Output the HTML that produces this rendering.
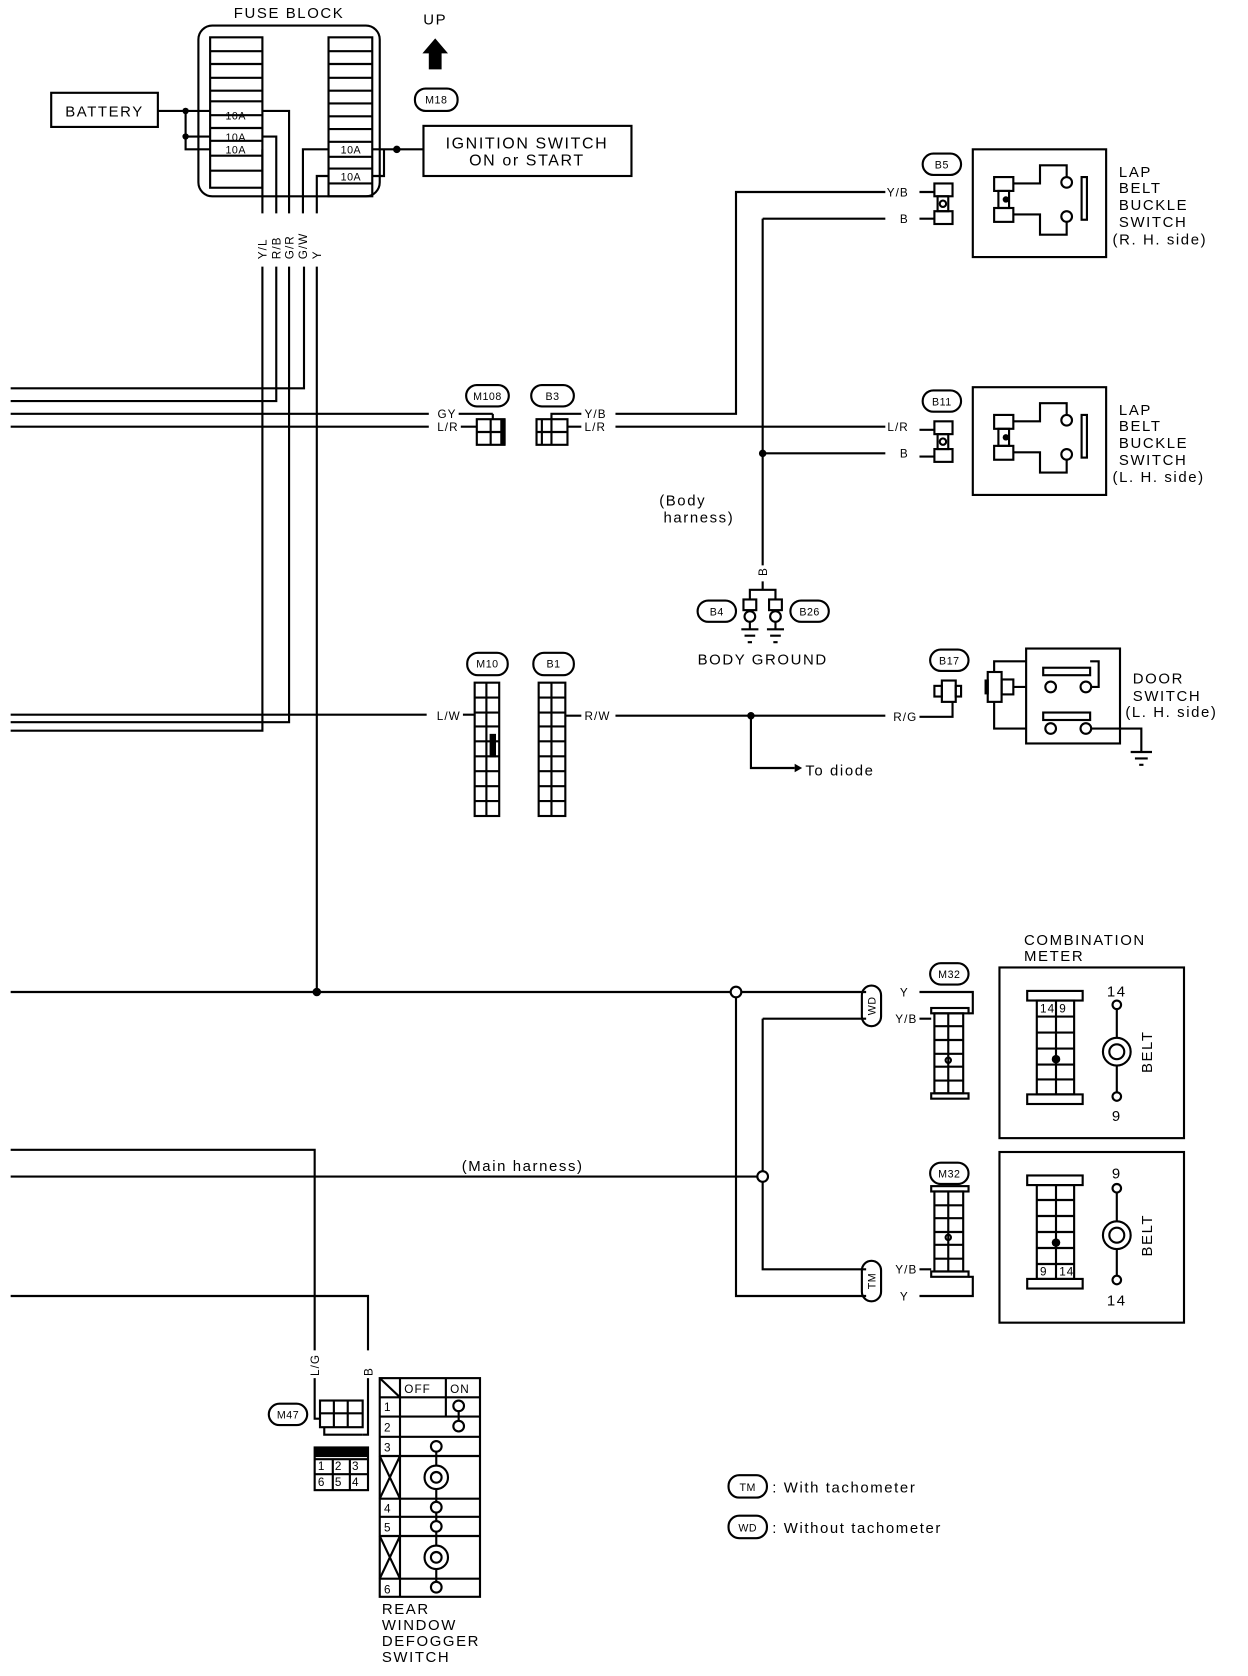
<!DOCTYPE html>
<html><head><meta charset="utf-8"><style>
html,body{margin:0;padding:0;background:#fff;}
svg{display:block;}
text{font-family:"Liberation Sans",sans-serif;fill:#000;}
</style></head><body>
<svg width="1248" height="1676" viewBox="0 0 1170 1571.25" xmlns="http://www.w3.org/2000/svg">
<g stroke="#000" stroke-width="2" fill="none">
<!-- fuse block -->
<rect x="186" y="24" width="170" height="160" rx="13"/>
<rect x="197" y="35" width="49" height="141"/>
<path d="M197 48H246M197 60H246M197 73H246M197 85H246M197 95H246M197 108H246M197 120H246M197 132H246M197 146H246M197 160H246"/>
<rect x="308" y="35" width="41" height="149"/>
<path d="M308 48H349M308 60H349M308 73H349M308 85H349M308 97H349M308 109H349M308 121H349M308 133H349M308 147H349M308 158H349M308 172H349"/>
<!-- battery -->
<rect x="48" y="87" width="100" height="32"/>
<path d="M148 104H197M174 104V140H197M174 128H197"/>
<path d="M246 104H271V200M246 128H259V200M246 140H246V200M349 140H372M349 165H360V140M372 140H397M308 140H284V200M308 165H297V200"/>
<rect x="397" y="118" width="195" height="47"/>
<!-- M18 -->
<rect x="389" y="83" width="40" height="21" rx="10"/>
<!-- left harness -->
<path d="M10 364H285V250M10 376H259V250M10 388H402M430 388H462M10 400H402M432 400H447"/>
<path d="M246 250V685H10M271 250V677H10M297 250V930"/>
<path d="M10 670H400M434 670H445"/>
<!-- M108/B3 -->
<rect x="437" y="361" width="40" height="20" rx="10"/>
<rect x="498" y="361" width="40" height="20" rx="10"/>
<path d="M462 388V393"/>
<rect x="447" y="393" width="26" height="24"/>
<path d="M460 393V417M447 405H473"/>
<rect x="503" y="393" width="29" height="24"/>
<path d="M517 393V417M503 405H532M508 393V417M517 393V388H545"/>
<path d="M532 400H545M577 388H690V180H830M577 400H830M715 205V530M715 205H830M715 425H830"/>
<!-- B5 / B11 -->
<rect x="865" y="144" width="36" height="20" rx="10"/>
<rect x="865" y="366" width="36" height="20" rx="10"/>
<g id="cb">
<path d="M862 180H876M862 205H876"/>
<rect x="876" y="172" width="17" height="12"/>
<rect x="876" y="198" width="17" height="12"/>
<rect x="879" y="184" width="10" height="14"/>
<circle cx="884" cy="191" r="3"/>
<rect x="912" y="140" width="125" height="101"/>
<rect x="932" y="166" width="18" height="13"/>
<rect x="932" y="195" width="18" height="13"/>
<rect x="936" y="179" width="10" height="16"/>
<path d="M950 172H975V155H1000V166M950 201H975V220H1000V208"/>
<circle cx="1000" cy="171" r="5"/><circle cx="1000" cy="203" r="5"/>
<rect x="1014" y="166" width="5" height="40"/>
</g>
<use href="#cb" transform="translate(0,223)"/>
<!-- ground split -->
<path d="M715 545V553M703 562V553H727V562"/>
<rect x="697" y="562" width="12" height="10"/><rect x="721" y="562" width="12" height="10"/>
<circle cx="703" cy="578" r="5"/><circle cx="727" cy="578" r="5"/>
<path d="M703 583V590M727 583V590M695 590H711M719 590H735M698 596H708M722 596H732M701 602H705M725 602H729"/>
<rect x="654" y="563" width="36" height="20" rx="10"/>
<rect x="741" y="563" width="36" height="20" rx="10"/>
<!-- M10 B1 -->
<rect x="438" y="612" width="38" height="21" rx="10"/>
<rect x="500" y="612" width="38" height="21" rx="10"/>
<rect x="445" y="640" width="23" height="125"/>
<rect x="505" y="640" width="25" height="125"/>
<path d="M456 640V765M445 654H468M445 668H468M445 681H468M445 695H468M445 709H468M445 723H468M445 737H468M445 751H468"/>
<path d="M517 640V765M505 654H530M505 668H530M505 681H530M505 695H530M505 709H530M505 723H530M505 737H530M505 751H530"/>
<path d="M530 671H545M577 671H830M704 671V720H745M862 672H893V658"/>
<!-- B17 -->
<rect x="872" y="609" width="36" height="20" rx="10"/>
<rect x="883" y="638" width="13" height="20"/><rect x="876" y="643" width="7" height="10"/><rect x="896" y="643" width="5" height="10"/>
<rect x="926" y="630" width="13" height="28"/><rect x="939" y="637" width="11" height="14"/>
<path d="M932 630V620H962M932 658V683H962M950 644H962"/>
<rect x="962" y="608" width="88" height="89"/>
<rect x="978" y="626" width="44" height="7"/><rect x="978" y="668" width="44" height="7"/>
<circle cx="985" cy="644" r="5"/><circle cx="1018" cy="644" r="5"/>
<circle cx="985" cy="683" r="5"/><circle cx="1018" cy="683" r="5"/>
<path d="M1023 644H1030V620H1022M1023 683H1070V705M1060 705H1080M1064 711H1076M1068 717H1072"/>
<!-- lower harness -->
<path d="M10 930H812M690 930V1215H812M715 955H812M715 955V1190H812M10 1103H715M10 1078H295V1266M295 1292V1330H300M10 1215H345V1266M345 1292V1345H340"/>
<circle cx="690" cy="930" r="5" fill="#fff"/><circle cx="715" cy="1103" r="5" fill="#fff"/>
<rect x="808" y="924" width="18" height="38" rx="9"/>
<rect x="808" y="1182" width="18" height="38" rx="9"/>
<rect x="872" y="903" width="36" height="20" rx="10"/>
<rect x="872" y="1090" width="36" height="20" rx="10"/>
<path d="M862 930H912V950H908M862 955H873M862 1190H873M862 1215H912V1197H908"/>
<rect x="873" y="945" width="35" height="5"/><rect x="876" y="950" width="27" height="75"/><rect x="873" y="1025" width="35" height="5"/>
<path d="M889 950V1025M876 962H903M876 975H903M876 988H903M876 1000H903M876 1013H903"/>
<circle cx="889" cy="994" r="2.5"/>
<rect x="873" y="1112" width="35" height="5"/><rect x="876" y="1117" width="27" height="75"/><rect x="873" y="1192" width="35" height="5"/>
<path d="M889 1117V1192M876 1130H903M876 1142H903M876 1155H903M876 1167H903M876 1180H903"/>
<circle cx="889" cy="1160" r="2.5"/>
<!-- combination meter -->
<rect x="937" y="907" width="173" height="160"/>
<rect x="963" y="929" width="52" height="9"/><rect x="972" y="938" width="35" height="88"/><rect x="963" y="1026" width="52" height="9"/>
<path d="M990 938V1026M972 953H1007M972 968H1007M972 983H1007M972 998H1007M972 1012H1007"/>
<rect x="937" y="1080" width="173" height="160"/>
<rect x="963" y="1102" width="52" height="9"/><rect x="972" y="1111" width="35" height="88"/><rect x="963" y="1199" width="52" height="9"/>
<path d="M990 1111V1199M972 1125H1007M972 1140H1007M972 1155H1007M972 1170H1007M972 1185H1007"/>
<path d="M1047 946V1024M1047 1110V1196"/>
<circle cx="1047" cy="942" r="4" fill="#fff"/><circle cx="1047" cy="1028" r="4" fill="#fff"/>
<circle cx="1047" cy="986" r="13" fill="#fff"/><circle cx="1047" cy="986" r="7"/>
<circle cx="1047" cy="1114" r="4" fill="#fff"/><circle cx="1047" cy="1200" r="4" fill="#fff"/>
<circle cx="1047" cy="1158" r="13" fill="#fff"/><circle cx="1047" cy="1158" r="7"/>
<!-- M47 -->
<rect x="252" y="1316" width="36" height="20" rx="10"/>
<rect x="300" y="1313" width="40" height="25"/><path d="M313 1313V1338M326 1313V1338M300 1325H340M304 1338V1345H340"/>
<rect x="295" y="1357" width="50" height="40"/>
<path d="M295 1368H345M295 1382H345M312 1368V1397M328 1368V1397"/>
<!-- defogger table -->
<rect x="356" y="1292" width="94" height="205"/>
<path d="M375 1292V1497M418 1292V1328M356 1310H450M356 1328H450M356 1347H450M356 1365H450M356 1405H450M356 1422H450M356 1440H450M356 1480H450M356 1292L375 1310M356 1365L375 1405M375 1365L356 1405M356 1440L375 1480M375 1440L356 1480"/>
<path d="M409 1356V1488M430 1318V1336"/>
<circle cx="430" cy="1318" r="5" fill="#fff"/><circle cx="430" cy="1337" r="5" fill="#fff"/>
<circle cx="409" cy="1356" r="5" fill="#fff"/><circle cx="409" cy="1385" r="11" fill="#fff"/><circle cx="409" cy="1385" r="5"/>
<circle cx="409" cy="1413" r="5" fill="#fff"/><circle cx="409" cy="1431" r="5" fill="#fff"/>
<circle cx="409" cy="1460" r="11" fill="#fff"/><circle cx="409" cy="1460" r="5"/>
<circle cx="409" cy="1488" r="5" fill="#fff"/>
<!-- legend -->
<rect x="683" y="1383" width="36" height="21" rx="10"/>
<rect x="683" y="1421" width="36" height="21" rx="10"/>
</g>
<g fill="#000">
<rect x="469" y="393" width="5" height="24"/>
<rect x="295" y="1357" width="50" height="9"/>
<circle cx="174" cy="104" r="3"/><circle cx="174" cy="128" r="3"/><circle cx="372" cy="140" r="3.5"/>
<circle cx="715" cy="425" r="3.5"/><circle cx="704" cy="671" r="3.5"/><circle cx="297" cy="930" r="4"/>
<circle cx="943" cy="187" r="3"/><circle cx="943" cy="410" r="3"/>
<rect x="459" y="688" width="6" height="22"/>
<rect x="923" y="637" width="4" height="14"/>
<circle cx="990" cy="993" r="4"/><circle cx="990" cy="1165" r="4"/>
<path d="M408 36L396 50H402V65H414V50H420Z"/>
<path d="M745 716L752 720L745 724Z"/>
</g>
<g font-size="14" letter-spacing="1.5">
<text x="271" y="17" text-anchor="middle">FUSE BLOCK</text>
<text x="408" y="23" text-anchor="middle">UP</text>
<text x="98" y="109" text-anchor="middle">BATTERY</text>
<text x="494" y="139" text-anchor="middle" font-size="15">IGNITION SWITCH</text>
<text x="494" y="155" text-anchor="middle" font-size="15">ON or START</text>
<text x="1049" y="166">LAP</text><text x="1049" y="181">BELT</text><text x="1049" y="197">BUCKLE</text><text x="1049" y="213">SWITCH</text><text x="1043" y="229">(R. H. side)</text>
<text x="1049" y="389">LAP</text><text x="1049" y="404">BELT</text><text x="1049" y="420">BUCKLE</text><text x="1049" y="436">SWITCH</text><text x="1043" y="452">(L. H. side)</text>
<text x="618" y="474">(Body</text><text x="622" y="490">harness)</text>
<text x="715" y="623" text-anchor="middle">BODY GROUND</text>
<text x="1062" y="641">DOOR</text><text x="1062" y="657">SWITCH</text><text x="1055" y="672">(L. H. side)</text>
<text x="755" y="727">To diode</text>
<text x="960" y="886">COMBINATION</text><text x="960" y="901">METER</text>
<text x="490" y="1098" text-anchor="middle">(Main harness)</text>
<text x="358" y="1513">REAR</text><text x="358" y="1528">WINDOW</text><text x="358" y="1543">DEFOGGER</text><text x="358" y="1558">SWITCH</text>
<text x="724" y="1399">: With tachometer</text>
<text x="724" y="1437">: Without tachometer</text>
<text x="1047" y="934" text-anchor="middle">14</text><text x="1047" y="1051" text-anchor="middle">9</text>
<text x="1047" y="1105" text-anchor="middle">9</text><text x="1047" y="1224" text-anchor="middle">14</text>
<text transform="translate(1080,986) rotate(-90)" text-anchor="middle">BELT</text>
<text transform="translate(1080,1158) rotate(-90)" text-anchor="middle">BELT</text>
</g>
<g font-size="10" letter-spacing="0.5" text-anchor="middle">
<text x="409" y="97">M18</text><text x="457" y="375">M108</text><text x="518" y="375">B3</text>
<text x="883" y="158">B5</text><text x="883" y="380">B11</text>
<text x="672" y="577">B4</text><text x="759" y="577">B26</text>
<text x="457" y="626">M10</text><text x="519" y="626">B1</text><text x="890" y="623">B17</text>
<text x="890" y="917">M32</text><text x="890" y="1104">M32</text><text x="270" y="1330">M47</text>
<text x="701" y="1398">TM</text><text x="701" y="1436">WD</text>
<text transform="translate(821,943) rotate(-90)">WD</text>
<text transform="translate(821,1201) rotate(-90)">TM</text>
<text x="221" y="112">10A</text><text x="221" y="132">10A</text><text x="221" y="144">10A</text>
<text x="329" y="144">10A</text><text x="329" y="169">10A</text>
</g>
<g font-size="11" letter-spacing="1">
<text x="428" y="392" text-anchor="end">GY</text><text x="430" y="404" text-anchor="end">L/R</text>
<text x="548" y="392">Y/B</text><text x="548" y="404">L/R</text>
<text x="852" y="184" text-anchor="end">Y/B</text><text x="852" y="209" text-anchor="end">B</text>
<text x="852" y="404" text-anchor="end">L/R</text><text x="852" y="429" text-anchor="end">B</text>
<text x="432" y="675" text-anchor="end">L/W</text><text x="548" y="675">R/W</text>
<text x="860" y="676" text-anchor="end">R/G</text>
<text x="852" y="934" text-anchor="end">Y</text><text x="860" y="959" text-anchor="end">Y/B</text>
<text x="860" y="1194" text-anchor="end">Y/B</text><text x="852" y="1219" text-anchor="end">Y</text>
<text transform="translate(250,243) rotate(-90)">Y/L</text>
<text transform="translate(263,243) rotate(-90)">R/B</text>
<text transform="translate(275,243) rotate(-90)">G/R</text>
<text transform="translate(288,243) rotate(-90)">G/W</text>
<text transform="translate(301,243) rotate(-90)">Y</text>
<text transform="translate(719,540) rotate(-90)">B</text>
<text transform="translate(299,1290) rotate(-90)">L/G</text>
<text transform="translate(349,1290) rotate(-90)">B</text>
<text x="379" y="1306">OFF</text><text x="422" y="1306">ON</text>
<text x="360" y="1323">1</text><text x="360" y="1342">2</text><text x="360" y="1361">3</text>
<text x="360" y="1418">4</text><text x="360" y="1436">5</text><text x="360" y="1494">6</text>
<text x="298" y="1378">1</text><text x="314" y="1378">2</text><text x="330" y="1378">3</text>
<text x="298" y="1393">6</text><text x="314" y="1393">5</text><text x="330" y="1393">4</text>
<text x="975" y="949">14</text><text x="993" y="949">9</text>
<text x="975" y="1196">9</text><text x="993" y="1196">14</text>
</g>
</svg>
</body></html>
